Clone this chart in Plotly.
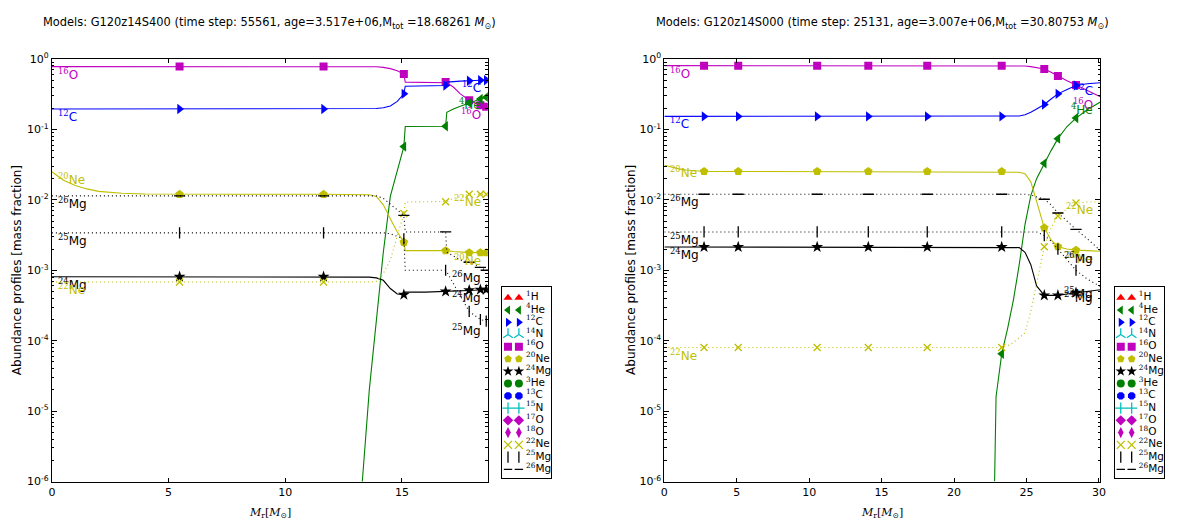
import math
import plotly.graph_objects as go

W, H = 1181, 524
FONT = "DejaVu Sans"
TFONT = "DejaVu Sans Condensed"
SERIF = "DejaVu Serif"

# ---------------- data: left model (G120z14S400) ----------------
L_mass = [0, 0.5, 1, 1.5, 2, 3, 4, 5.47, 8, 11.64, 13.0, 13.3, 13.6, 13.9, 14.2, 14.5,
          14.8, 15.08, 15.14, 16.0, 16.87, 16.92, 17.2, 17.5, 17.88, 18.1, 18.36, 18.61, 18.68]
L_marker_idx = [7, 9, 17, 20, 24, 26, 27]
L_O16 = [0.78, 0.78, 0.78, 0.78, 0.78, 0.78, 0.78, 0.78, 0.78, 0.78,
         0.78, 0.78, 0.78, 0.775, 0.76, 0.73, 0.68, 0.61, 0.47, 0.47, 0.47, 0.46, 0.40, 0.32, 0.26, 0.24, 0.22, 0.21, 0.205]
L_C12 = [0.195, 0.195, 0.195, 0.195, 0.195, 0.195, 0.195, 0.195, 0.195, 0.195,
         0.195, 0.195, 0.196, 0.198, 0.203, 0.215, 0.25, 0.32, 0.41, 0.41, 0.42, 0.47, 0.48, 0.485, 0.49, 0.5, 0.5, 0.5, 0.5]
L_He4 = [None, None, None, None, None, None, None, None, None, None,
         1e-7, 1e-6, 2e-5, 2e-4, 1.8e-3, 0.0112, 0.025, 0.057, 0.11, 0.11, 0.111, 0.175, 0.195, 0.213, 0.238, 0.25, 0.27, 0.287, 0.29]
L_Ne20 = [0.025, 0.019, 0.016, 0.0143, 0.0132, 0.0124, 0.0121, 0.012, 0.012, 0.012,
          0.012, 0.012, 0.0118, 0.0112, 0.0085, 0.0054, 0.0035, 0.0025, 0.0019, 0.0019, 0.0019, 0.0019, 0.00185, 0.0018, 0.00178, 0.00178, 0.00178, 0.00178, 0.00178]
L_Mg24 = [0.00081, 0.00081, 0.00081, 0.00081, 0.00081, 0.00081, 0.00081, 0.00081, 0.00081, 0.00081,
          0.00081, 0.00081, 0.0008, 0.00078, 0.00072, 0.00055, 0.00046, 0.00045, 0.00049, 0.00049, 0.0005, 0.0005, 0.0005, 0.00051, 0.00052, 0.00052, 0.00053, 0.00053, 0.00053]
L_Ne22 = [0.00068, 0.00068, 0.00068, 0.00068, 0.00068, 0.00068, 0.00068, 0.00068, 0.00068, 0.00068,
          0.00068, 0.00068, 0.00068, 0.0007, 0.0009, 0.0014, 0.003, 0.0064, 0.0093, 0.0093, 0.0094, 0.0095, 0.0105, 0.011, 0.012, 0.012, 0.012, 0.012, 0.012]
L_Mg25 = [0.0034, 0.0034, 0.0034, 0.0034, 0.0034, 0.0034, 0.0034, 0.0034, 0.0034, 0.0034,
          0.0034, 0.0034, 0.0034, 0.0034, 0.0034, 0.0033, 0.003, 0.0028, 0.001, 0.001, 0.001, 0.00095, 0.00064, 0.00043, 0.00026, 0.00023, 0.0002, 0.00019, 0.00018]
L_Mg26 = [0.0114, 0.0114, 0.0114, 0.0114, 0.0114, 0.0114, 0.0114, 0.0114, 0.0114, 0.0114,
          0.0114, 0.0114, 0.0114, 0.0114, 0.0105, 0.0088, 0.0072, 0.006, 0.0035, 0.0035, 0.0035, 0.0018, 0.0016, 0.0014, 0.0013, 0.0012, 0.0011, 0.001, 0.001]

# ---------------- data: right model (G120z14S000) ----------------
R_mass = [0, 0.5, 1, 1.5, 2, 2.74, 5.1, 10.55, 14.08, 18.15, 22.8, 22.9, 23.29, 23.7, 24.1, 24.5,
          24.9, 25.3, 25.7, 26.23, 26.7, 27.17, 27.8, 28.42, 29.2, 30.1]
R_marker_idx = [5, 6, 7, 8, 9, 12, 19, 21, 23]
R_O16 = [0.805, 0.805, 0.805, 0.805, 0.805, 0.805, 0.805, 0.805, 0.805, 0.805, 0.805, 0.805, 0.805,
         0.805, 0.805, 0.80, 0.795, 0.78, 0.76, 0.72, 0.65, 0.574, 0.49, 0.427, 0.36, 0.29]
R_C12 = [0.153, 0.153, 0.153, 0.153, 0.153, 0.153, 0.153, 0.153, 0.153, 0.153, 0.153, 0.153, 0.153,
         0.153, 0.153, 0.155, 0.162, 0.175, 0.195, 0.226, 0.27, 0.32, 0.37, 0.42, 0.445, 0.46]
R_He4 = [None, None, None, None, None, None, None, None, None, None,
         1e-6, 1.6e-5, 6.5e-5, 1.5e-4, 3.8e-4, 1.2e-3, 4.5e-3, 0.0115, 0.02, 0.033, 0.05, 0.074, 0.11, 0.145, 0.19, 0.245]
R_Ne20 = [0.031, 0.029, 0.0275, 0.0265, 0.026, 0.0253, 0.0253, 0.0253, 0.0253, 0.0253, 0.0253, 0.0253, 0.0253,
          0.0252, 0.025, 0.0247, 0.0235, 0.018, 0.0095, 0.004, 0.0027, 0.00216, 0.002, 0.00193, 0.0019, 0.00186]
R_Mg24 = [0.00214, 0.00214, 0.00214, 0.00214, 0.00214, 0.00214, 0.00214, 0.00214, 0.00214, 0.00214, 0.00214, 0.00214, 0.00214,
          0.00214, 0.00214, 0.0021, 0.0018, 0.0012, 0.0006, 0.00044, 0.00044, 0.00044, 0.00046, 0.00048, 0.0005, 0.00053]
R_Ne22 = [8e-5, 8e-5, 8e-5, 8e-5, 8e-5, 8e-5, 8e-5, 8e-5, 8e-5, 8e-5, 8e-5, 8e-5, 8e-5,
          8.5e-5, 9.5e-5, 1.1e-4, 1.3e-4, 2.6e-4, 6.5e-4, 0.00216, 0.004, 0.0059, 0.0075, 0.009, 0.0093, 0.0093]
R_Mg25 = [0.0035, 0.0035, 0.0035, 0.0035, 0.0035, 0.0035, 0.0035, 0.0035, 0.0035, 0.0035, 0.0035, 0.0035, 0.0035,
          0.0035, 0.0035, 0.0035, 0.0035, 0.0035, 0.0035, 0.0031, 0.0026, 0.002, 0.0014, 0.001, 0.00075, 0.00059]
R_Mg26 = [0.012, 0.012, 0.012, 0.012, 0.012, 0.012, 0.012, 0.012, 0.012, 0.012, 0.012, 0.012, 0.012,
          0.012, 0.012, 0.012, 0.012, 0.0117, 0.011, 0.0102, 0.0085, 0.0065, 0.005, 0.0038, 0.0028, 0.0019]

L_xmax = 18.68
R_xmax = 30.1
L_xticks = [0, 5, 10, 15]
R_xticks = [0, 5, 10, 15, 20, 25, 30]
y_tickvals = [1e-6, 1e-5, 1e-4, 1e-3, 1e-2, 1e-1, 1e0]
y_ticktext = ["10<sup>-6</sup>", "10<sup>-5</sup>", "10<sup>-4</sup>", "10<sup>-3</sup>",
              "10<sup>-2</sup>", "10<sup>-1</sup>", "10<sup>0</sup>"]

titles = [
    "Models: G120z14S400 (time step: 55561, age=3.517e+06,M<sub>tot</sub> =18.68261 <i>M</i><sub>⊙</sub>)",
    "Models: G120z14S000 (time step: 25131, age=3.007e+06,M<sub>tot</sub> =30.80753 <i>M</i><sub>⊙</sub>)",
]

MAG, BLU, GRN, OLV, BLK, RED, CYN = "#bf00bf", "#0000ff", "#008000", "#bfbf00", "#000000", "#ff0000", "#00bfbf"

# species: key, isotope number, element, color, dash, marker symbol, marker size
species = [
    ("O16", "16", "O", MAG, "solid", "square", 8),
    ("C12", "12", "C", BLU, "solid", "triangle-right", 9),
    ("He4", "4", "He", GRN, "solid", "triangle-left", 9),
    ("Ne20", "20", "Ne", OLV, "solid", "pentagon", 9),
    ("Mg24", "24", "Mg", BLK, "solid", "star", 9),
    ("Ne22", "22", "Ne", OLV, "1px,3px", "x-thin-open", 7),
    ("Mg25", "25", "Mg", BLK, "1px,3px", "line-ns-open", 8),
    ("Mg26", "26", "Mg", BLK, "1px,3px", "line-ew-open", 8),
]

legend_entries = [
    ("1", "H", RED, "triangle-up"), ("4", "He", GRN, "triangle-left"), ("12", "C", BLU, "triangle-right"),
    ("14", "N", CYN, "y-up-open"), ("16", "O", MAG, "square"), ("20", "Ne", OLV, "pentagon"),
    ("24", "Mg", BLK, "star"), ("3", "He", GRN, "circle"), ("13", "C", BLU, "octagon"),
    ("15", "N", CYN, "cross-thin-open"), ("17", "O", MAG, "diamond"), ("18", "O", MAG, "diamond-tall"),
    ("22", "Ne", OLV, "x-thin-open"), ("25", "Mg", BLK, "line-ns-open"), ("26", "Mg", BLK, "line-ew-open"),
]

panels = [
    dict(mass=L_mass, idx=L_marker_idx, xmax=L_xmax, xticks=L_xticks, px=(48.3, 488),
         leg=(502, 552), data=dict(O16=L_O16, C12=L_C12, He4=L_He4, Ne20=L_Ne20, Mg24=L_Mg24,
                                   Ne22=L_Ne22, Mg25=L_Mg25, Mg26=L_Mg26)),
    dict(mass=R_mass, idx=R_marker_idx, xmax=R_xmax, xticks=R_xticks, px=(666, 1105.7),
         leg=(1120, 1170), data=dict(O16=R_O16, C12=R_C12, He4=R_He4, Ne20=R_Ne20, Mg24=R_Mg24,
                                     Ne22=R_Ne22, Mg25=R_Mg25, Mg26=R_Mg26)),
]

PY_TOP, PY_BOT = 52.5, 487.5
LEG_TOP, LEG_BOT = 287.7, 484.3


def iso_label(num, el):
    return f"<sup><span style=\"font-family:'{SERIF}'\">{num}</span></sup>{el}"


fig = go.Figure()
annotations = []
layout_axes = {}

for k, p in enumerate(panels):
    xn = "x" if k == 0 else "x2"
    yn = "y" if k == 0 else "y2"
    lx = f"x{3 + k}"
    ly = f"y{3 + k}"
    mass = p["mass"]
    for key, num, el, col, dash, sym, msz in species:
        ys = p["data"][key]
        fig.add_trace(go.Scatter(x=mass, y=ys, mode="lines", xaxis=xn, yaxis=yn,
                                 line=dict(color=col, width=1.1, dash=dash),
                                 showlegend=False, hoverinfo="skip"))
        mx = [mass[i] for i in p["idx"]]
        my = [ys[i] for i in p["idx"]]
        open_sym = sym.endswith("open")
        fig.add_trace(go.Scatter(x=mx, y=my, mode="markers", xaxis=xn, yaxis=yn,
                                 marker=dict(symbol=sym, size=msz, color=col,
                                             line=dict(color=col, width=1.3 if open_sym else 0)),
                                 showlegend=False, hoverinfo="skip"))
        # labels at the start and the end of each profile
        for pos, v in ((0, ys[0]), (-1, ys[-1])):
            if v is None or v < 1e-6:
                continue
            annotations.append(dict(
                x=mass[pos], y=math.log10(v), xref=xn, yref=yn,
                text=iso_label(num, el), showarrow=False,
                xanchor="left" if pos == 0 else "right", yanchor="middle",
                xshift=4 if pos == 0 else -5, yshift=-7,
                font=dict(family=FONT, size=12, color=col)))

    x0p, x1p = p["px"]
    layout_axes["xaxis" + ("" if k == 0 else "2")] = dict(
        domain=[x0p / W, x1p / W], range=[0, p["xmax"]], anchor=yn,
        tickvals=p["xticks"], ticktext=[str(t) for t in p["xticks"]],
        ticks="inside", ticklen=4, tickcolor="black", showline=True, linecolor="black",
        linewidth=1, mirror="allticks", showgrid=False, zeroline=False,
        tickfont=dict(family=FONT, size=11, color="black"))
    layout_axes["yaxis" + ("" if k == 0 else "2")] = dict(
        domain=[1 - PY_BOT / H, 1 - PY_TOP / H], type="log", range=[-6, 0], anchor=xn,
        tickvals=y_tickvals, ticktext=y_ticktext,
        ticks="inside", ticklen=5, tickcolor="black", showline=True, linecolor="black",
        linewidth=1, mirror="allticks", showgrid=False, zeroline=False,
        minor=dict(tickmode="linear", dtick="D1", ticks="inside", ticklen=2.5,
                   tickcolor="black", showgrid=False),
        tickfont=dict(family=FONT, size=11, color="black"))

    # legend (drawn in its own small pixel-scaled axes)
    lg0, lg1 = p["leg"]
    layout_axes[f"xaxis{3 + k}"] = dict(domain=[lg0 / W, lg1 / W], range=[lg0, lg1], anchor=ly,
                                        showline=True, mirror=True, linecolor="black", linewidth=1,
                                        showticklabels=False, ticks="", showgrid=False, zeroline=False,
                                        fixedrange=True)
    layout_axes[f"yaxis{3 + k}"] = dict(domain=[1 - LEG_BOT / H, 1 - LEG_TOP / H], range=[LEG_BOT, LEG_TOP],
                                        anchor=lx, showline=True, mirror=True, linecolor="black",
                                        linewidth=1, showticklabels=False, ticks="", showgrid=False,
                                        zeroline=False, fixedrange=True)
    for i, (num, el, col, sym) in enumerate(legend_entries):
        yrow = LEG_TOP + 10.6 + 12.62 * i
        open_sym = sym.endswith("open")
        msize = 6 if sym == "line-ew-open" else 8
        fig.add_trace(go.Scatter(x=[lg0 + 6.3, lg0 + 17.3], y=[yrow, yrow], mode="markers",
                                 xaxis=lx, yaxis=ly, showlegend=False, hoverinfo="skip",
                                 marker=dict(symbol=sym, size=msize, color=col,
                                             line=dict(color=col, width=1.3 if open_sym else 0))))
        fig.add_trace(go.Scatter(x=[lg0 + 24.5], y=[yrow], mode="text", text=[iso_label(num, el)],
                                 textposition="middle right", xaxis=lx, yaxis=ly, showlegend=False,
                                 hoverinfo="skip", textfont=dict(family=FONT, size=10.5, color="black")))

    # titles and axis labels
    cx = (x0p + x1p) / 2 / W
    annotations.append(dict(x=cx, y=1 - 15 / H, xref="paper", yref="paper", text=titles[k],
                            showarrow=False, xanchor="center", yanchor="middle",
                            font=dict(family=TFONT + ", " + FONT, size=12.7, color="black")))
    annotations.append(dict(x=cx, y=1 - 520 / H, xref="paper", yref="paper",
                            text="<i>M</i><sub>r</sub>[<i>M</i><sub>⊙</sub>]",
                            showarrow=False, xanchor="center", yanchor="middle",
                            font=dict(family=SERIF, size=11, color="black")))
    annotations.append(dict(x=(13 if k == 0 else 633) / W, y=1 - (PY_TOP + PY_BOT) / 2 / H,
                            xref="paper", yref="paper", text="Abundance profiles [mass fraction]",
                            textangle=-90, showarrow=False, xanchor="center", yanchor="middle",
                            font=dict(family=FONT, size=12, color="black")))

fig.update_layout(width=W, height=H, margin=dict(l=0, r=0, t=0, b=0),
                  paper_bgcolor="white", plot_bgcolor="white", showlegend=False,
                  annotations=annotations, font=dict(family=FONT, color="black"), **layout_axes)

fig.write_html("out.html")
